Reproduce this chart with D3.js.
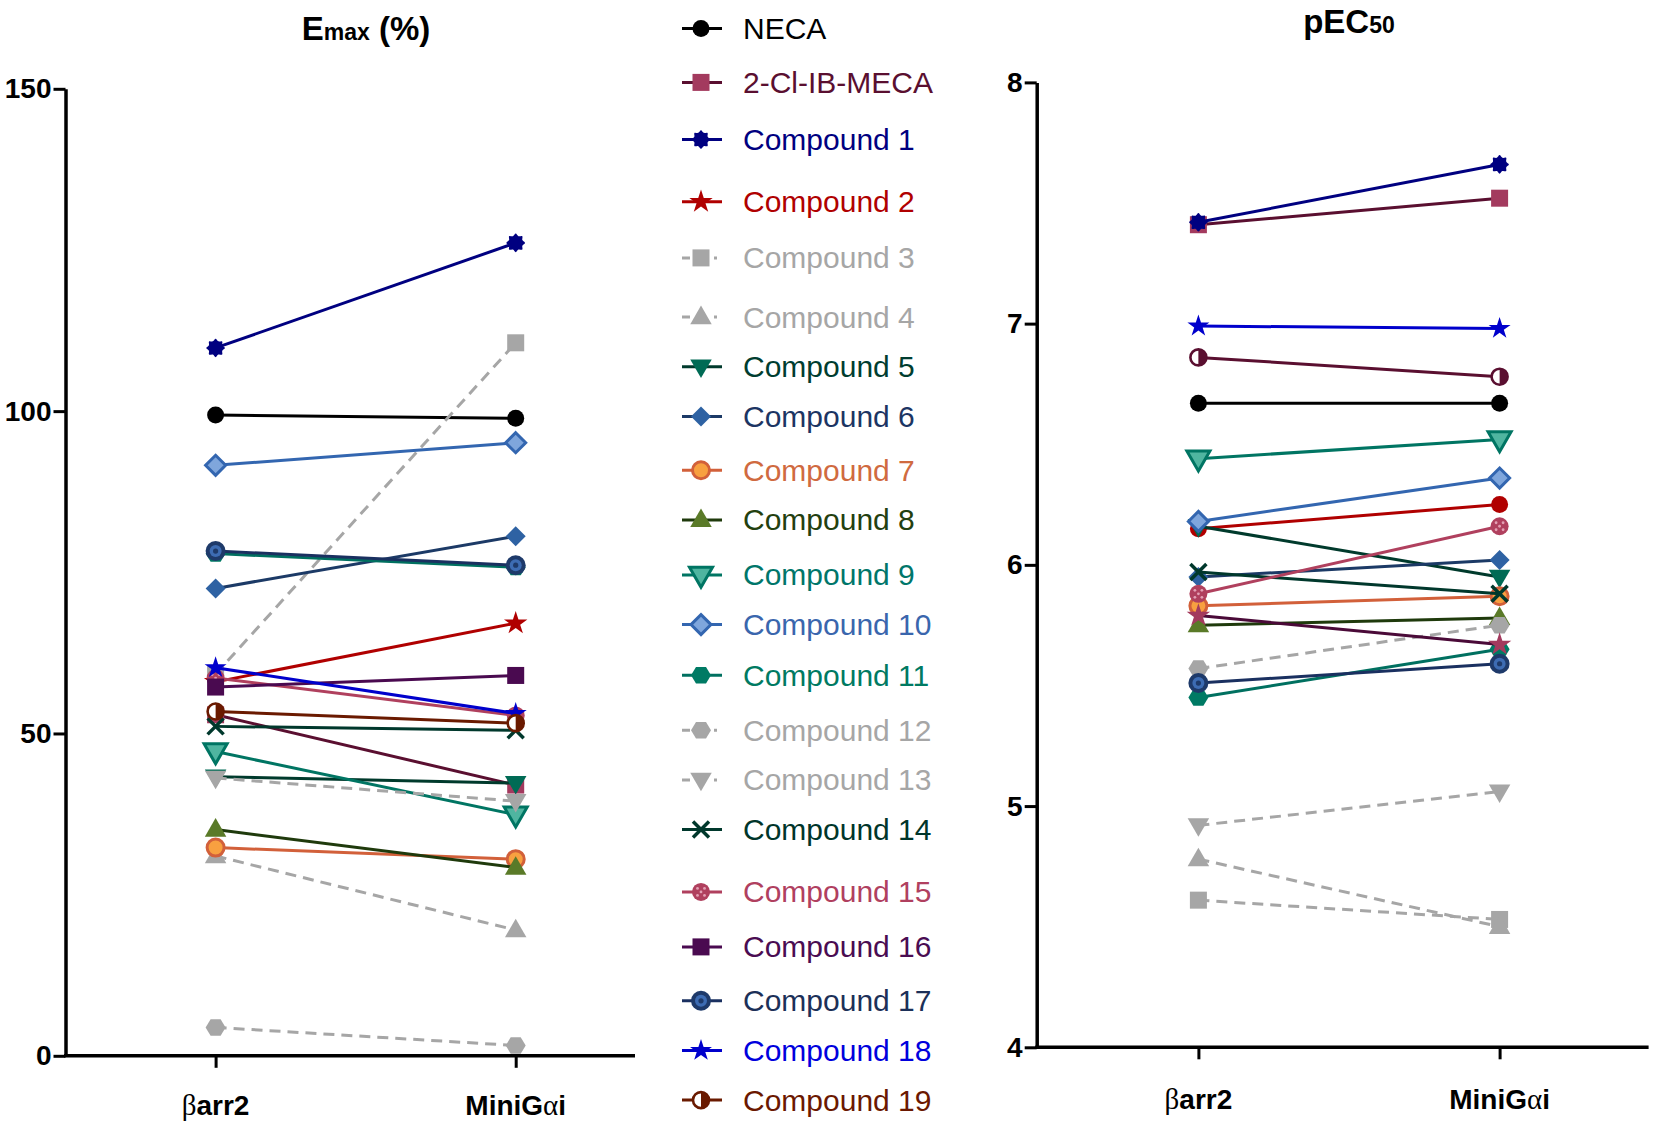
<!DOCTYPE html>
<html><head><meta charset="utf-8">
<script src="https://cdn.jsdelivr.net/npm/d3@7"></script>
<style>
body{margin:0;background:#fff}
svg{display:block}
text{font-family:"Liberation Sans",Arial,sans-serif}
</style>
</head><body>
<svg id="chart" width="1657" height="1129"></svg>
<script>
// ---------- DATA ----------
const categories = ["βarr2", "MiniGαi"];
const seriesNames = ["NECA","2-Cl-IB-MECA","Compound 1","Compound 2","Compound 3","Compound 4","Compound 5",
  "Compound 6","Compound 7","Compound 8","Compound 9","Compound 10","Compound 11","Compound 12","Compound 13",
  "Compound 14","Compound 15","Compound 16","Compound 17","Compound 18","Compound 19"];
const emaxBarr2   = [99.4, 52.9, 109.8, 58.0, 59.2, 31.0, 43.3, 72.5, 32.3, 35.1, 47.2, 91.6, 77.9, 4.4, 43.1, 51.1, 58.6, 57.2, 78.3, 60.2, 53.4];
const emaxMiniGai = [98.9, 42.0, 126.1, 67.1, 110.6, 19.5, 42.3, 80.6, 30.5, 29.2, 37.4, 95.1, 75.8, 1.6, 39.5, 50.5, 52.8, 59.0, 76.1, 53.1, 51.6];
const pec50Barr2   = [6.67, 7.41, 7.42, 6.15, 4.61, 4.78, 6.16, 5.95, 5.83, 5.75, 6.44, 6.18, 5.45, 5.57, 4.92, 5.97, 5.88, 5.79, 5.51, 6.99, 6.86];
const pec50MiniGai = [6.67, 7.52, 7.66, 6.25, 4.53, 4.50, 5.95, 6.02, 5.87, 5.78, 6.52, 6.36, 5.65, 5.75, 5.06, 5.88, 6.16, 5.67, 5.59, 6.98, 6.78];
const emaxTicks = [0, 50, 100, 150];
const pec50Ticks = [4, 5, 6, 7, 8];

// ---------- STYLES ----------
const lineColor = ["#000000","#5a0f30","#000080","#b00000","#a6a6a6","#a6a6a6","#003a2c","#1c3a66","#d2603a","#1f3a0c",
  "#007563","#3366b0","#007060","#a6a6a6","#a6a6a6","#00382c","#b0405e","#4a0a50","#1a3060","#0000cc","#6a1a00"];
const textColor = ["#000000","#5a0f30","#000080","#b00000","#a6a6a6","#a6a6a6","#003d30","#1c3563","#d06a40","#23400f",
  "#00766a","#3a66ad","#007a62","#a6a6a6","#a6a6a6","#00352a","#b0405f","#4a0c52","#1c3058","#0000dd","#6b1800"];
const markerType = ["circle","square","gear","star","square","triangle","triDown","diamond","orangeCircle","triangle",
  "openTriDown","openDiamond","hexagon","hexagon","triDown","x","crossCircle","square","ringCircle","smallStar","halfCircle"];
const markerFill = ["#000000","#a33a5e","#000080","#b00000","#a6a6a6","#a6a6a6","#006b55","#2e62a3","#f8a040","#5a7a28",
  "#4fb5a0","#7fa6dc","#007a64","#a6a6a6","#a6a6a6","#00382c","#b0405e","#4a0a50","#1e3a6a","#0000cc","#6a1a00"];
const dashed = [0,0,0,0,1,1,0,0,0,0,0,0,0,1,1,0,0,0,0,0,0];
// marker differences seen in the pEC50 panel
const pecMarkerType = markerType.map((m,i)=> i===3 ? "circle" : i===17 ? "star" : m);
const pecMarkerFill = markerFill.map((c,i)=> i===17 ? "#a33a5e" : i===20 ? "#5a0f30" : c);
const pecLineColor = lineColor.map((c,i)=> i===17 ? "#4a0a38" : i===20 ? "#5a0f30" : c);

const legendRowY = [28.5,82.4,139.5,201.8,257.9,317,366.7,416.4,470.3,519.9,574.9,624.6,675.3,730.2,779.9,829.6,891.9,946.9,1000.8,1050.5,1100.1];

const svg = d3.select("#chart");

function drawMarker(g, type, fill, stroke) {
  const sym = (t, s) => d3.symbol().type(t).size(s)();
  switch (type) {
    case "circle": g.append("circle").attr("r", 8.5).attr("fill", fill); break;
    case "square": g.append("rect").attr("x",-8.5).attr("y",-8.5).attr("width",17).attr("height",17).attr("fill", fill); break;
    case "gear": {
      const pts = d3.range(16).map(k => { const a = k*Math.PI/8; const r = k%2 ? 7.2 : 9.3; return [r*Math.cos(a), r*Math.sin(a)]; });
      g.append("path").attr("d", d3.line().curve(d3.curveCardinalClosed)(pts)).attr("fill", fill); break;
    }
    case "star": g.append("path").attr("d", sym(d3.symbolStar, 170)).attr("fill", fill); break;
    case "smallStar": g.append("path").attr("d", sym(d3.symbolStar, 150)).attr("fill", fill); break;
    case "triangle": g.append("path").attr("d", sym(d3.symbolTriangle, 200)).attr("transform","translate(0,1)").attr("fill", fill); break;
    case "triDown": g.append("path").attr("d", sym(d3.symbolTriangle, 200)).attr("transform","translate(0,-1) rotate(180)").attr("fill", fill); break;
    case "openTriDown": g.append("path").attr("d", sym(d3.symbolTriangle, 230)).attr("transform","translate(0,-1) rotate(180)")
        .attr("fill", fill).attr("stroke", stroke).attr("stroke-width", 3).attr("stroke-linejoin","miter"); break;
    case "diamond": g.append("path").attr("d","M0,-10L10,0L0,10L-10,0Z").attr("fill", fill); break;
    case "openDiamond": g.append("path").attr("d","M0,-10L10,0L0,10L-10,0Z").attr("fill", fill)
        .attr("stroke", stroke).attr("stroke-width", 3); break;
    case "hexagon": {
      const pts = d3.range(6).map(k => [10*Math.cos(k*Math.PI/3), 9.5*Math.sin(k*Math.PI/3)]);
      g.append("path").attr("d", "M" + pts.join("L") + "Z").attr("fill", fill); break;
    }
    case "x": g.append("path").attr("d","M-8,-8L8,8M-8,8L8,-8").attr("stroke", fill).attr("stroke-width", 3.5).attr("fill","none"); break;
    case "crossCircle":
      g.append("circle").attr("r", 9).attr("fill", fill);
      [[-3.5,-3.5],[3.5,-3.5],[-3.5,3.5],[3.5,3.5],[0,0]].forEach(p =>
        g.append("circle").attr("cx",p[0]).attr("cy",p[1]).attr("r",1.4).attr("fill","#e3a0b4"));
      break;
    case "ringCircle":
      g.append("circle").attr("r", 10).attr("fill", fill);
      g.append("circle").attr("r", 6).attr("fill", "#3d6cb3");
      g.append("circle").attr("r", 2.6).attr("fill", fill);
      break;
    case "orangeCircle":
      g.append("circle").attr("r", 8.5).attr("fill", fill).attr("stroke", stroke).attr("stroke-width", 3); break;
    case "halfCircle":
      g.append("circle").attr("r", 8).attr("fill", "#fff").attr("stroke", fill).attr("stroke-width", 2.6);
      g.append("path").attr("d","M0,-8A8,8 0 0 1 0,8Z").attr("fill", fill);
      break;
  }
}

function panel(cfg) {
  const x = d3.scalePoint().domain(categories).range([cfg.cat0, cfg.cat1]);
  const y = d3.scaleLinear().domain(cfg.domain).range([cfg.yBottom, cfg.yTop]);
  const g = svg.append("g");

  // y axis
  const ya = g.append("g").attr("transform", `translate(${cfg.axisX},0)`)
    .call(d3.axisLeft(y).tickValues(cfg.ticks).tickFormat(d3.format("d")).tickSize(12).tickSizeOuter(0).tickPadding(2));
  ya.select(".domain").attr("stroke","#000").attr("stroke-width",3.5);
  ya.selectAll(".tick line").attr("stroke","#000").attr("stroke-width",3);
  ya.selectAll(".tick text").attr("fill","#000").style("font-size","28px").style("font-weight","bold");

  // x axis
  const xa = g.append("g").attr("transform", `translate(0,${cfg.yBottom})`)
    .call(d3.axisBottom(x).tickSize(12).tickFormat(""));
  xa.select(".domain").remove();
  xa.append("line").attr("x1", cfg.axisX - 1.5).attr("x2", cfg.axisEndX).attr("stroke","#000").attr("stroke-width",3.5);
  xa.selectAll(".tick line").attr("stroke","#000").attr("stroke-width",3);
  // category labels with greek glyphs in serif
  categories.forEach(c => {
    const t = g.append("text").attr("x", x(c)).attr("y", cfg.labelY).attr("text-anchor","middle")
      .style("font-size","28px").style("font-weight","bold").attr("fill","#000");
    const parts = c.split(/([βα])/).filter(s => s.length);
    parts.forEach(p => {
      const ts = t.append("tspan").text(p);
      if (/[βα]/.test(p)) ts.style("font-family","'Liberation Serif','DejaVu Serif',serif").style("font-weight","normal").style("font-size","29px");
    });
  });

  // series
  d3.range(seriesNames.length).forEach(i => {
    const vals = [cfg.a[i], cfg.b[i]];
    const pts = categories.map((c,k) => [x(c), y(vals[k])]);
    g.append("path").attr("d", d3.line()(pts)).attr("fill","none")
      .attr("stroke", cfg.lineColor[i]).attr("stroke-width", 3)
      .attr("stroke-dasharray", dashed[i] ? "11,7" : null);
    pts.forEach(p => {
      const mg = g.append("g").attr("transform", `translate(${p[0]},${p[1]})`);
      drawMarker(mg, cfg.mType[i], cfg.mFill[i], cfg.lineColor[i]);
    });
  });

  // title
  const tt = g.append("text").attr("x", cfg.titleX).attr("y", cfg.titleY).attr("text-anchor","middle")
    .style("font-weight","bold").attr("fill","#000");
  cfg.title.forEach(([s, fs]) => tt.append("tspan").text(s).style("font-size", fs + "px"));
}

panel({ domain:[0,150], ticks: emaxTicks, axisX:65.5, axisEndX:635, yTop:88.8, yBottom:1055.8,
  cat0:215.6, cat1:515.7, labelY:1115, titleX:366, titleY:40,
  title:[["E",33],["max",23],[" (%)",33]],
  a: emaxBarr2, b: emaxMiniGai, lineColor: lineColor, mType: markerType, mFill: markerFill });

panel({ domain:[4,8], ticks: pec50Ticks, axisX:1036.7, axisEndX:1648.6, yTop:82.4, yBottom:1047.3,
  cat0:1198.4, cat1:1499.6, labelY:1109, titleX:1349, titleY:33,
  title:[["pEC",33],["50",23]],
  a: pec50Barr2, b: pec50MiniGai, lineColor: pecLineColor, mType: pecMarkerType, mFill: pecMarkerFill });

// legend
const lg = svg.append("g");
seriesNames.forEach((name, i) => {
  const row = lg.append("g").attr("transform", `translate(0,${legendRowY[i]})`);
  row.append("line").attr("x1", 682).attr("x2", 722).attr("stroke", lineColor[i]).attr("stroke-width", 3)
    .attr("stroke-dasharray", dashed[i] ? "8,24,3,10" : null);
  const mg = row.append("g").attr("transform", "translate(701,0)");
  drawMarker(mg, markerType[i], markerFill[i], lineColor[i]);
  row.append("text").attr("x", 743).attr("dy","0.35em").text(name)
    .style("font-size","30px").attr("fill", textColor[i]);
});
</script>
</body></html>
